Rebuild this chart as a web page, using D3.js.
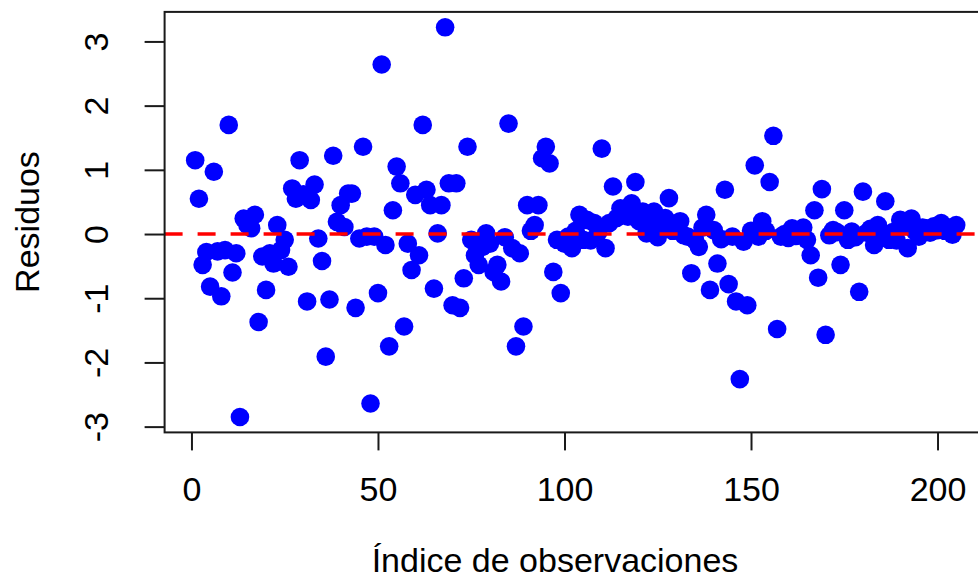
<!DOCTYPE html>
<html>
<head>
<meta charset="utf-8">
<script src="https://cdn.jsdelivr.net/npm/d3@7"></script>
<style>
  html, body { margin: 0; padding: 0; background: #fff; }
  svg text { font-family: "Liberation Sans", Arial, sans-serif; fill: #000; }
</style>
</head>
<body>
<svg id="chart" width="978" height="579"></svg>
<script>
// ---- data ----
const residuos = [
  1.15, 0.55, -0.48, -0.28, -0.82, 0.97, -0.27, -0.97, -0.25, 1.70,
  -0.60, -0.30, -2.85, 0.24, 0.14, 0.09, 0.30, -1.37, -0.35, -0.87,
  -0.30, -0.46, 0.14, -0.25, -0.09, -0.51, 0.71, 0.55, 1.15, 0.62,
  -1.05, 0.53, 0.77, -0.07, -0.42, -1.91, -1.02, 1.22, 0.19, 0.45,
  0.11, 0.63, 0.63, -1.15, -0.07, 1.36, -0.04, -2.64, -0.04, -0.92,
  2.64, -0.17, -1.75, 0.37, 1.05, 0.79, -1.44, -0.15, -0.56, 0.61,
  -0.33, 1.70, 0.69, 0.45, -0.85, 0.01, 0.45, 3.22, 0.79, -1.11,
  0.79, -1.15, -0.69, 1.36, -0.09, -0.33, -0.48, -0.20, 0.01, -0.15,
  -0.59, -0.48, -0.74, -0.05, 1.72, -0.22, -1.75, -0.30, -1.44, 0.45,
  0.05, 0.14, 0.45, 1.18, 1.36, 1.10, -0.59, -0.09, -0.92, -0.15,
  -0.04, -0.22, 0.05, 0.30, -0.09, 0.22, -0.10, 0.17, 0.02, 1.33,
  -0.22, 0.17, 0.74, 0.25, 0.40, 0.30, 0.27, 0.48, 0.81, 0.20,
  0.35, 0.01, 0.15, 0.35, -0.05, 0.09, 0.25, 0.56, 0.05, 0.11,
  0.20, -0.02, -0.04, -0.61, -0.10, -0.20, 0.10, 0.30, -0.87, 0.06,
  -0.46, -0.08, 0.69, -0.78, -0.04, -1.05, -2.26, -0.12, -1.11, 0.05,
  1.07, -0.04, 0.20, 0.05, 0.81, 1.53, -1.48, -0.04, 0.00, -0.06,
  0.09, -0.03, 0.04, 0.10, -0.09, -0.33, 0.37, -0.68, 0.70, -1.57,
  -0.02, 0.06, 0.03, -0.48, 0.37, -0.09, 0.04, -0.05, -0.90, 0.66,
  0.02, 0.08, -0.17, 0.14, -0.02, 0.51, -0.09, 0.03, -0.10, 0.22,
  0.12, -0.22, 0.24, 0.04, -0.04, 0.10, 0.09, 0.02, 0.12, 0.06,
  0.17, 0.05, 0.10, -0.01, 0.14
];
const indices = residuos.map((_, i) => i + 1);
const xTicks = [0, 50, 100, 150, 200];
const yTicks = [-3, -2, -1, 0, 1, 2, 3];
const xTitle = "Índice de observaciones";
const yTitle = "Residuos";
const refLine = 0;

// ---- layout ----
const svg = d3.select("#chart");
const pL = 164.6, pR = 990.5, pT = 11.9, pB = 432.4;
const fs = 34;
const fmt = d => String(d);

const x = d3.scaleLinear().domain([-7.2, 214.2]).range([pL, pR]);
const y = d3.scaleLinear().domain([-3.09, 3.46]).range([pB, pT]);

// points
svg.append("g")
  .selectAll("circle")
  .data(indices)
  .join("circle")
  .attr("cx", d => x(d))
  .attr("cy", (d, i) => y(residuos[i]))
  .attr("r", 9.3)
  .attr("fill", "#0000FF");

// reference line (dashed red)
svg.append("line")
  .attr("x1", pL).attr("x2", pR)
  .attr("y1", y(refLine)).attr("y2", y(refLine))
  .attr("stroke", "#FF0000")
  .attr("stroke-width", 3.5)
  .attr("stroke-dasharray", "18,15");

// box
svg.append("rect")
  .attr("x", pL).attr("y", pT)
  .attr("width", pR - pL).attr("height", pB - pT)
  .attr("fill", "none")
  .attr("stroke", "#1a1a1a")
  .attr("stroke-width", 2);

// x axis
const gx = svg.append("g")
  .attr("transform", `translate(0,${pB})`)
  .call(d3.axisBottom(x).tickValues(xTicks).tickFormat(fmt).tickSize(18).tickSizeOuter(0).tickPadding(26));
gx.select(".domain").remove();
gx.selectAll(".tick line").attr("stroke", "#1a1a1a").attr("stroke-width", 2);
gx.selectAll(".tick text").attr("font-size", fs).attr("fill", "#000");

// y axis
const gy = svg.append("g")
  .attr("transform", `translate(${pL},0)`)
  .call(d3.axisLeft(y).tickValues(yTicks).tickFormat(fmt).tickSize(20).tickSizeOuter(0));
gy.select(".domain").remove();
gy.selectAll(".tick line").attr("stroke", "#1a1a1a").attr("stroke-width", 2);
gy.selectAll(".tick text")
  .attr("font-size", fs)
  .attr("fill", "#000")
  .attr("x", 0).attr("dy", 0)
  .attr("text-anchor", "middle")
  .attr("transform", "translate(-57,0) rotate(-90)");

// titles
svg.append("text")
  .attr("x", 555).attr("y", 572)
  .attr("text-anchor", "middle")
  .attr("font-size", fs)
  .text(xTitle);

svg.append("text")
  .attr("transform", "translate(39,222) rotate(-90)")
  .attr("text-anchor", "middle")
  .attr("font-size", fs)
  .text(yTitle);
</script>
</body>
</html>
